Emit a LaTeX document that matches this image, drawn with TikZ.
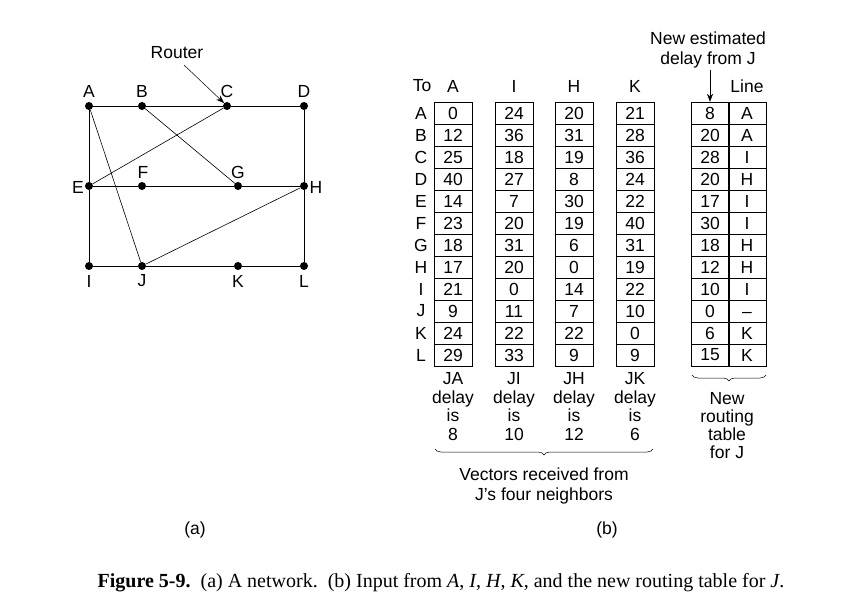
\documentclass[tikz,border=0pt]{standalone}
\usepackage{fontspec}
\setmainfont{Liberation Sans}
\newfontfamily\capfont{Liberation Serif}
\usetikzlibrary{decorations.pathreplacing,arrows.meta}
\begin{document}
\begin{tikzpicture}[x=1pt,y=-1pt,font=\fontsize{17.5}{19}\selectfont,
  dot/.style={circle,fill,inner sep=0pt,minimum size=8pt},
  lbl/.style={inner sep=0pt},
  cell/.style={draw,minimum width=38pt,minimum height=22pt,inner sep=0pt,anchor=center},
  link/.style={line width=0.6pt},
  br/.style={decorate,decoration={brace,mirror,amplitude=6pt},line width=0.5pt}]
\useasboundingbox (0,0) rectangle (848,612);
% network
\foreach \n/\x/\y in {A/89/106,B/142/106,C/227/106,D/304/106,E/89/186,F/142/186,G/238/186,H/304/186,I/89/266,J/142/266,K/238/266,L/304/266}
  \node[dot] (\n) at (\x,\y) {};
\foreach \n/\x/\y in {A/89/91,B/142/91,C/227/91,D/304/91,F/143/172,G/238/172,I/89/281,J/142/281,K/238/281,L/304/281}
  \node[lbl] (l\n) at (\x,\y) {\n};
\node[lbl] (lE) at (78,187) {E};
\node[lbl] (lH) at (316,187) {H};
\draw[link] (A)--(B)--(C)--(D)--(H)--(L)--(K)--(J)--(I)--(E)--(A);
\draw[link] (E)--(F)--(G)--(H);
\draw[link] (A)--(J) (B)--(G) (C)--(E) (J)--(H);
\node[lbl] (router) at (177,53) {Router};
\draw[-{Stealth[length=8pt]},line width=0.5pt] (184,65) -- (C.north west);
% tables
\node[lbl] (to) at (422,86) {To};
\foreach \c/\x in {A/453,I/514,H/574,K/635} \node[lbl] (h\c) at (\x,86) {\c};
\node[lbl] (hLine) at (747,86) {Line};
\def\rows{A,B,C,D,E,F,G,H,I,J,K,L}
\foreach \r [count=\i] in \rows
  \node[lbl] (r\r) at (421,{91+22*\i}) {\r};
\foreach \col/\x/\vals in {a/453/{0,12,25,40,14,23,18,17,21,9,24,29},
  i/514/{24,36,18,27,7,20,31,20,0,11,22,33},
  h/574/{20,31,19,8,30,19,6,0,14,7,22,9},
  k/635/{21,28,36,24,22,40,31,19,22,10,0,9},
  d/710/{8,20,28,20,17,30,18,12,10,0,6,15},
  l/747/{A,A,I,H,I,I,H,H,I,{\vphantom{A}–},K,K}}
  \foreach \v [count=\i] in \vals
    \node[cell] (\col\i) at (\x,{91+22*\i}) {\v};
\foreach \t/\x/\d in {JA/453/8,JI/514/10,JH/574/12,JK/635/6}
  \node[lbl,align=center,font=\fontsize{17.5}{18.8}\selectfont,anchor=north] (t\t) at (\x,372) {\t\\delay\\is\\\d};
\draw[br] (435,449) -- (653,449);
\node[lbl,align=center,font=\fontsize{17.5}{19.5}\selectfont] (vec) at (544,486) {Vectors received from\\J's four neighbors};
\draw[br] (692,375) -- (766,375);
\node[lbl,align=center,font=\fontsize{17.5}{18}\selectfont,anchor=north] (newt) at (727,392) {New\\routing\\table\\for J};
\node[lbl,align=center,font=\fontsize{17.5}{20}\selectfont] (nest) at (708,50) {New estimated\\delay from J};
\draw[-{Stealth[length=8pt]},line width=0.5pt] (710,70) -- (d1.north);
\node[lbl] (ca) at (195,530) {(a)};
\node[lbl] (cb) at (607,530) {(b)};
\node[lbl,font=\capfont\fontsize{20}{22}\selectfont] (cap) at (441,583) {\textbf{Figure 5-9.}\ \ (a) A network.\ \ (b) Input from \textit{A}, \textit{I}, \textit{H}, \textit{K}, and the new routing table for \textit{J}.};
\end{tikzpicture}
\end{document}
